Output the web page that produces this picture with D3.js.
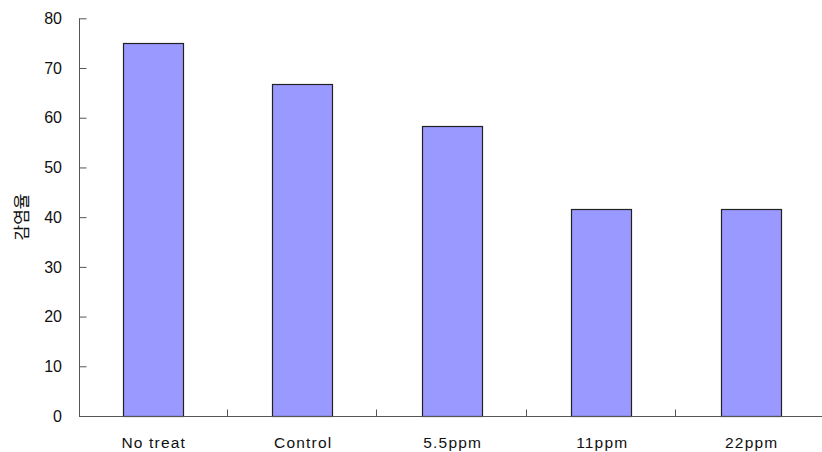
<!DOCTYPE html>
<html>
<head>
<meta charset="utf-8">
<script src="https://cdn.jsdelivr.net/npm/d3@7"></script>
<style>
  html, body { margin: 0; padding: 0; background: #fff; }
  svg { display: block; }
</style>
</head>
<body>
<svg id="chart" width="822" height="452"></svg>
<script>
// Infection rate per treatment
const categories = ["No treat", "Control", "5.5ppm", "11ppm", "22ppm"];
const infectionRate = [75, 66.7, 58.3, 41.7, 41.7];
const yTicks = [0, 10, 20, 30, 40, 50, 60, 70, 80];
const yTitle = "감염율";

const svg = d3.select("#chart");
const margin = { left: 79, right: -4.5, top: 18.3, bottom: 36 };
const W = 822, H = 452;

const x = d3.scaleBand()
  .domain(categories)
  .range([margin.left, W - margin.right])
  .paddingInner(0)
  .paddingOuter(0);

const y = d3.scaleLinear()
  .domain([0, 80])
  .range([H - margin.bottom, margin.top]);

const barW = 60;
const axisColor = "#555";
const labelFont = "'Liberation Sans', Arial, sans-serif";

// bars
svg.append("g")
  .selectAll("rect")
  .data(categories.map((c, i) => ({ c, v: infectionRate[i] })))
  .join("rect")
  .attr("x", d => Math.round(x(d.c) + x.bandwidth() / 2 - barW / 2) - 0.5)
  .attr("y", d => Math.round(y(d.v)) + 0.5)
  .attr("width", barW)
  .attr("height", d => Math.round(y(0)) - Math.round(y(d.v)))
  .attr("fill", "#9999ff")
  .attr("stroke", "#222")
  .attr("stroke-width", 1.2);

// y axis
const yAxis = svg.append("g")
  .attr("transform", `translate(${margin.left + 0.5},0)`)
  .call(d3.axisRight(y).tickValues(yTicks).tickSize(7).tickFormat(""));
yAxis.select(".domain").attr("stroke", axisColor).attr("d", `M0,${y(80)}V${y(0)}`);
yAxis.selectAll(".tick line").attr("stroke", axisColor);

// y tick labels
svg.append("g")
  .selectAll("text")
  .data(yTicks)
  .join("text")
  .attr("x", 62)
  .attr("y", d => y(d))
  .attr("dy", "0.36em")
  .attr("text-anchor", "end")
  .attr("font-family", labelFont)
  .attr("font-size", 16)
  .attr("fill", "#111")
  .text(d => d);

// x axis with boundary ticks pointing up
const xAxisG = svg.append("g")
  .attr("transform", `translate(0,${Math.round(y(0)) + 0.5})`);
xAxisG.append("line")
  .attr("x1", margin.left).attr("x2", W)
  .attr("stroke", axisColor);
xAxisG.selectAll("line.tk")
  .data(categories.slice(1))
  .join("line")
  .attr("class", "tk")
  .attr("x1", d => Math.round(x(d)) - 1.5)
  .attr("x2", d => Math.round(x(d)) - 1.5)
  .attr("y1", 0).attr("y2", -7)
  .attr("stroke", axisColor);

// category labels
svg.append("g")
  .selectAll("text")
  .data(categories)
  .join("text")
  .attr("x", d => x(d) + x.bandwidth() / 2)
  .attr("y", 448)
  .attr("text-anchor", "middle")
  .attr("font-family", labelFont)
  .attr("font-size", 15.5)
  .attr("letter-spacing", "1.2px")
  .attr("fill", "#111")
  .text(d => d);

// y axis title
svg.append("text")
  .attr("transform", `translate(28,217) rotate(-90)`)
  .attr("text-anchor", "middle")
  .attr("font-family", "'Noto Sans CJK KR', sans-serif")
  .attr("font-size", 17)
  .attr("fill", "#111")
  .text(yTitle);
</script>
</body>
</html>
